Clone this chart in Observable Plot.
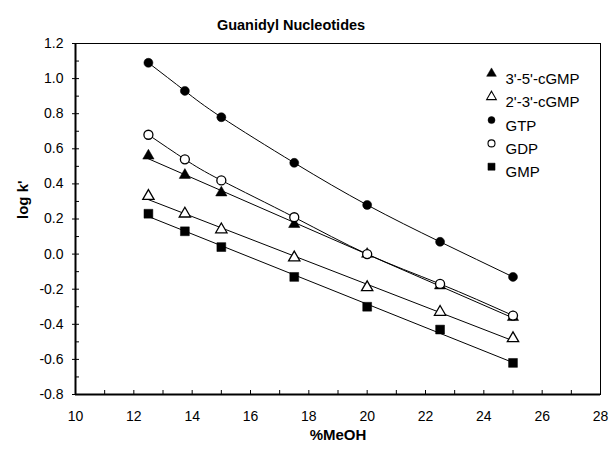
<!DOCTYPE html>
<html>
<head>
<meta charset="utf-8">
<script src="https://cdn.jsdelivr.net/npm/d3@7"></script>
<script src="https://cdn.jsdelivr.net/npm/@observablehq/plot@0.6"></script>
<style>
  body { margin: 0; background: #fff; }
  svg { display: block; }
</style>
</head>
<body>
<div id="chart"></div>
<script>
// Retention (log k') of guanidyl nucleotides versus methanol content
const meoh = [12.5, 13.75, 15, 17.5, 20, 22.5, 25];
const cgmp35 = [0.56, 0.45, 0.35, 0.17, 0.00, -0.18, -0.36];
const cgmp23 = [0.33, 0.23, 0.14, -0.02, -0.19, -0.33, -0.48];
const gtp = [1.09, 0.93, 0.78, 0.52, 0.28, 0.07, -0.13];
const gdp = [0.68, 0.54, 0.42, 0.21, 0.00, -0.17, -0.35];
const gmp = [0.23, 0.13, 0.04, -0.13, -0.30, -0.43, -0.62];

const seriesNames = ["3'-5'-cGMP", "2'-3'-cGMP", "GTP", "GDP", "GMP"];
const seriesValues = [cgmp35, cgmp23, gtp, gdp, gmp];

const xTicks = [10, 12, 14, 16, 18, 20, 22, 24, 26, 28];
const yTicks = [-0.8, -0.6, -0.4, -0.2, 0.0, 0.2, 0.4, 0.6, 0.8, 1.0, 1.2];
const xMinor = d3.range(10, 28.001, 1);
const yMinor = d3.range(-8, 12.001, 1).map(d => d / 10);

// marker style and trend-line type for each series
const styles = {
  "3'-5'-cGMP": {symbol: "triangle", fill: "black", r: 4.2, lr: 3.6, fit: "linear"},
  "2'-3'-cGMP": {symbol: "triangle", fill: "white", r: 4.2, lr: 3.6, fit: "linear"},
  "GTP":        {symbol: "circle",   fill: "black", r: 4.5, lr: 3.5, fit: "smooth"},
  "GDP":        {symbol: "circle",   fill: "white", r: 4.5, lr: 3.5, fit: "smooth"},
  "GMP":        {symbol: "square",   fill: "black", r: 5.0, lr: 4.0, fit: "linear"}
};

const rows = seriesNames.flatMap((name, i) =>
  meoh.map((x, j) => ({series: name, x, y: seriesValues[i][j]}))
);

const marks = [];

// plot frame and heavier axis lines
marks.push(Plot.frame({stroke: "black", strokeWidth: 1}));
marks.push(Plot.ruleX([10], {stroke: "black", strokeWidth: 2}));
marks.push(Plot.ruleY([-0.8], {stroke: "black", strokeWidth: 2}));

// inward ticks (major + minor) and tick labels
marks.push(Plot.axisX({ticks: xMinor, tickSize: -4, text: null, label: null}));
marks.push(Plot.axisY({ticks: yMinor, tickSize: -4, text: null, label: null}));
marks.push(Plot.axisY({ticks: yTicks, tickSize: 3, text: null, label: null}));
marks.push(Plot.axisX({ticks: xTicks, tickSize: 0, tickPadding: 17, tickFormat: d => String(d),
  label: null, fontSize: 14, fill: "black"}));
marks.push(Plot.axisY({ticks: yTicks, tickSize: 0, tickPadding: 12, tickFormat: d => d.toFixed(1),
  label: null, fontSize: 14, fill: "black"}));

// trend lines
for (const name of seriesNames) {
  const data = rows.filter(d => d.series === name);
  if (styles[name].fit === "linear") {
    marks.push(Plot.linearRegressionY(data, {x: "x", y: "y", stroke: "black", strokeWidth: 1, ci: 0}));
  } else {
    marks.push(Plot.line(data, {x: "x", y: "y", stroke: "black", strokeWidth: 1, curve: "natural"}));
  }
}

// markers
for (const name of seriesNames) {
  const s = styles[name];
  const data = rows.filter(d => d.series === name);
  marks.push(Plot.dot(data, {x: "x", y: "y", symbol: s.symbol, r: s.r,
    fill: s.fill, stroke: "black", strokeWidth: s.fill === "white" ? 1.3 : 0.5}));
}

// legend inside the plot area, top right
seriesNames.forEach((name, i) => {
  const s = styles[name];
  const dy = 30 + 23.3 * i;
  marks.push(Plot.dot([name], {x: null, y: null, frameAnchor: "top-right", dx: -109, dy,
    symbol: s.symbol, r: s.lr, fill: s.fill, stroke: "black", strokeWidth: s.fill === "white" ? 1.1 : 0.5}));
  marks.push(Plot.text([name], {x: null, y: null, text: d => d, frameAnchor: "top-right", dx: -95, dy,
    textAnchor: "start", fontSize: 15, fill: "black"}));
});

// title and axis labels
marks.push(Plot.text(["Guanidyl Nucleotides"], {x: null, y: null, text: d => d, frameAnchor: "top",
  dx: -47, dy: -24, fontSize: 14.5, fontWeight: "bold", fill: "black"}));
marks.push(Plot.text(["log k'"], {x: null, y: null, text: d => d, frameAnchor: "left",
  dx: -52, rotate: -90, fontSize: 15, fontWeight: "bold", fill: "black"}));
marks.push(Plot.text(["%MeOH"], {x: null, y: null, text: d => d, frameAnchor: "bottom",
  dy: 45, fontSize: 15, fontWeight: "bold", fill: "black"}));

const chart = Plot.plot({
  width: 609,
  height: 451,
  marginLeft: 75,
  marginRight: 9,
  marginTop: 43,
  marginBottom: 57,
  style: {fontFamily: "'Liberation Sans', Arial, sans-serif", fontSize: "14px", background: "white", color: "black"},
  x: {domain: [10, 28]},
  y: {domain: [-0.8, 1.2]},
  marks
});
document.getElementById("chart").append(chart);
</script>
</body>
</html>
